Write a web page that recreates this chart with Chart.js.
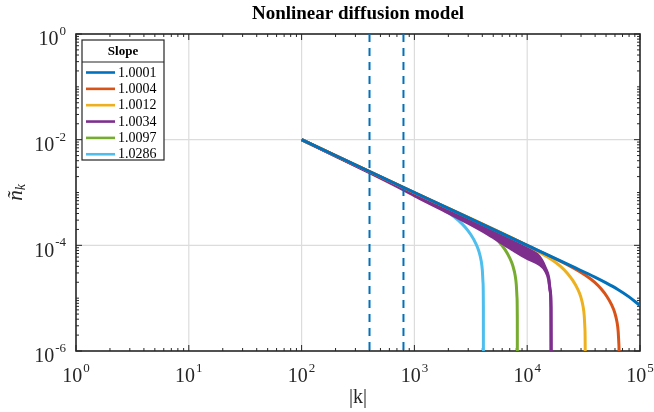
<!DOCTYPE html>
<html>
<head>
<meta charset="utf-8">
<script src="https://cdn.jsdelivr.net/npm/chart.js@4.4.0/dist/chart.umd.min.js"></script>
<style>
  html, body { margin: 0; padding: 0; background: #fff; }
  #wrap { width: 654px; height: 412px; position: relative; }
</style>
</head>
<body>
<div id="wrap"><canvas id="grafico"></canvas></div>
<script>
// pendientes (leyenda) y colores por defecto de matlab
const slopes = ['1.0001', '1.0004', '1.0012', '1.0034', '1.0097', '1.0286']
const colores = ['#0072BD', '#D95319', '#EDB120', '#7E2F8E', '#77AC30', '#4DBEEE']

// curvas |k| vs n_k
const kBlue = [100, 1000, 10000, 25100, 39800, 50100, 63100, 79400, 100000]
const nBlue = [1e-2, 9.998e-4, 9.998e-5, 3.98e-5, 2.51e-5, 1.949e-5, 1.477e-5, 1.070e-5, 7.24e-6]

const kOrange = [100, 1000, 10000, 26090, 32846, 39496, 45345, 50877, 55786, 59774, 62593, 64051, 64944, 65395, 65536]
const nOrange = [1e-2, 9.99e-4, 9.98e-5, 3.65e-5, 2.707e-5, 2.007e-5, 1.487e-5, 1.077e-5, 7.63e-6, 5.28e-6, 3.49e-6, 2.36e-6, 1.37e-6, 4.8e-7, 1e-8]

const kYellow = [100, 1000, 10000, 13045, 16422, 19747, 22669, 25435, 27889, 29885, 31293, 32023, 32468, 32693, 32768]
const nYellow = [1e-2, 9.97e-4, 9.94e-5, 7.28e-5, 5.39e-5, 4.00e-5, 2.965e-5, 2.146e-5, 1.519e-5, 1.051e-5, 6.94e-6, 4.69e-6, 2.73e-6, 9.6e-7, 1e-8]

// la morada es una banda: borde inferior y borde superior
const kPurple = [100, 400, 750, 1100, 2000, 3000, 4400, 5750, 7600, 10000, 13000, 14500, 15500, 16000, 16250, 16384]
const nPurple = [1e-2, 2.38e-3, 1.21e-3, 7.85e-4, 4.12e-4, 2.62e-4, 1.66e-4, 1.16e-4, 8.0e-5, 5.66e-5, 4.26e-5, 3.31e-5, 2.24e-5, 1.32e-5, 6.3e-6, 1e-8]
const kPurpleUp = [100, 1000, 3000, 10000, 12000, 13500, 14500, 15500, 16000, 16250, 16384]
const nPurpleUp = [1e-2, 9.7e-4, 3.18e-4, 9.5e-5, 7.14e-5, 5.15e-5, 3.72e-5, 2.45e-5, 1.41e-5, 6.8e-6, 1e-8]

const kGreen = [100, 1000, 3262, 4105, 4937, 5667, 6359, 6972, 7471, 7823, 8004, 8116, 8173, 8192]
const nGreen = [1e-2, 9.78e-4, 2.83e-4, 2.094e-4, 1.55e-4, 1.147e-4, 8.30e-5, 5.87e-5, 4.06e-5, 2.68e-5, 1.81e-5, 1.052e-5, 3.71e-6, 1e-8]

const kCyan = [100, 400, 1000, 1631, 2052, 2468, 2834, 3179, 3486, 3736, 3912, 4002, 4058, 4087, 4096]
const nCyan = [1e-2, 2.40e-3, 9.36e-4, 5.41e-4, 3.98e-4, 2.94e-4, 2.17e-4, 1.566e-4, 1.105e-4, 7.63e-5, 5.04e-5, 3.40e-5, 1.975e-5, 6.96e-6, 1e-8]

// lineas verticales punteadas
const kDash = [400, 800]

// ticks
const xExps = [0, 1, 2, 3, 4, 5]
const yExps = [0, -2, -4, -6]

const fuente = '"Liberation Serif", "Times New Roman", serif'

function serie(k, n, color, label) {
   return {
      label: label,
      leyenda: true,
      data: k.map((v, i) => ({ x: v, y: n[i] })),
      borderColor: color,
      backgroundColor: color,
      borderWidth: 3,
      pointRadius: 0,
      fill: false,
      cubicInterpolationMode: 'monotone'
   }
}

const datasets = []
kDash.forEach(k => {
   datasets.push({
      data: [{ x: k, y: 1 }, { x: k, y: 1e-6 }],
      borderColor: colores[0],
      borderWidth: 2,
      borderDash: [8, 6],
      pointRadius: 0,
      fill: false
   })
})
datasets.push(serie(kBlue, nBlue, colores[0], slopes[0]))
datasets.push(serie(kOrange, nOrange, colores[1], slopes[1]))
datasets.push(serie(kYellow, nYellow, colores[2], slopes[2]))
datasets.push(serie(kPurple, nPurple, colores[3], slopes[3]))
const banda = serie(kPurpleUp, nPurpleUp, colores[3], '')
banda.leyenda = false
banda.fill = '-1'
datasets.push(banda)
datasets.push(serie(kGreen, nGreen, colores[4], slopes[4]))
datasets.push(serie(kCyan, nCyan, colores[5], slopes[5]))

function potencia(ctx, exp, x, yBase, align) {
   ctx.font = '20px ' + fuente
   const wBase = ctx.measureText('10').width
   ctx.font = '13px ' + fuente
   const wExp = ctx.measureText(String(exp)).width
   const total = wBase + 1 + wExp
   const x0 = align === 'right' ? x - total : x - total / 2
   ctx.textAlign = 'left'
   ctx.textBaseline = 'middle'
   ctx.font = '20px ' + fuente
   ctx.fillText('10', x0, yBase)
   ctx.font = '13px ' + fuente
   ctx.fillText(String(exp), x0 + wBase + 1, yBase - 8.5)
}

const ejes = {
   id: 'ejes',
   beforeDatasetsDraw(chart) {
      const ctx = chart.ctx
      const a = chart.chartArea
      const xs = chart.scales.x
      const ys = chart.scales.y
      ctx.save()
      // grid
      ctx.strokeStyle = '#dcdcdc'
      ctx.lineWidth = 1.2
      ctx.beginPath()
      xExps.slice(1, -1).forEach(e => {
         const px = xs.getPixelForValue(Math.pow(10, e))
         ctx.moveTo(px, a.top); ctx.lineTo(px, a.bottom)
      })
      yExps.slice(1, -1).forEach(e => {
         const py = ys.getPixelForValue(Math.pow(10, e))
         ctx.moveTo(a.left, py); ctx.lineTo(a.right, py)
      })
      ctx.stroke()

      // ticks hacia adentro
      ctx.strokeStyle = '#262626'
      ctx.lineWidth = 1
      ctx.beginPath()
      for (let e = 0; e <= 5; e++) {
         const px = xs.getPixelForValue(Math.pow(10, e))
         ctx.moveTo(px, a.bottom); ctx.lineTo(px, a.bottom - 6)
         ctx.moveTo(px, a.top); ctx.lineTo(px, a.top + 6)
         if (e < 5) {
            for (let m = 2; m <= 9; m++) {
               const pm = xs.getPixelForValue(m * Math.pow(10, e))
               ctx.moveTo(pm, a.bottom); ctx.lineTo(pm, a.bottom - 3)
               ctx.moveTo(pm, a.top); ctx.lineTo(pm, a.top + 3)
            }
         }
      }
      for (let e = -6; e <= 0; e++) {
         const py = ys.getPixelForValue(Math.pow(10, e))
         const largo = yExps.includes(e) ? 6 : 3
         ctx.moveTo(a.left, py); ctx.lineTo(a.left + largo, py)
         ctx.moveTo(a.right, py); ctx.lineTo(a.right - largo, py)
         if (e < 0) {
            for (let m = 2; m <= 9; m++) {
               const pm = ys.getPixelForValue(m * Math.pow(10, e))
               ctx.moveTo(a.left, pm); ctx.lineTo(a.left + 3, pm)
               ctx.moveTo(a.right, pm); ctx.lineTo(a.right - 3, pm)
            }
         }
      }
      ctx.stroke()

      // caja
      ctx.lineWidth = 1.6
      ctx.strokeRect(a.left, a.top, a.right - a.left, a.bottom - a.top)

      // etiquetas
      ctx.fillStyle = '#262626'
      xExps.forEach(e => {
         potencia(ctx, e, xs.getPixelForValue(Math.pow(10, e)), a.bottom + 26, 'center')
      })
      yExps.forEach(e => {
         potencia(ctx, e, a.left - 10, ys.getPixelForValue(Math.pow(10, e)) + 6, 'right')
      })

      // titulos
      ctx.textAlign = 'center'
      ctx.textBaseline = 'middle'
      ctx.font = '20px ' + fuente
      ctx.fillText('|k|', (a.left + a.right) / 2, a.bottom + 47)
      ctx.fillStyle = '#000'
      ctx.font = 'bold 19px ' + fuente
      ctx.fillText('Nonlinear diffusion model', (a.left + a.right) / 2, 14)

      ctx.fillStyle = '#262626'
      ctx.translate(16, (a.top + a.bottom) / 2)
      ctx.rotate(-Math.PI / 2)
      ctx.font = 'italic 21px ' + fuente
      const wn = ctx.measureText('ñ').width
      ctx.font = 'italic 14px ' + fuente
      const wk = ctx.measureText('k').width
      const x0 = -(wn + wk) / 2
      ctx.textAlign = 'left'
      ctx.font = 'italic 21px ' + fuente
      ctx.fillText('ñ', x0, 0)
      ctx.font = 'italic 14px ' + fuente
      ctx.fillText('k', x0 + wn, 5)
      ctx.restore()
   },
   afterDraw(chart) {
      // leyenda tipo matlab
      const ctx = chart.ctx
      const a = chart.chartArea
      const lx = a.left + 6, ly = a.top + 6, lw = 82, lh = 120
      ctx.save()
      ctx.fillStyle = '#fff'
      ctx.fillRect(lx, ly, lw, lh)
      ctx.strokeStyle = '#262626'
      ctx.lineWidth = 1.2
      ctx.strokeRect(lx, ly, lw, lh)
      ctx.beginPath()
      ctx.moveTo(lx, ly + 22); ctx.lineTo(lx + lw, ly + 22)
      ctx.stroke()
      ctx.fillStyle = '#000'
      ctx.textAlign = 'center'
      ctx.textBaseline = 'middle'
      ctx.font = 'bold 13px ' + fuente
      ctx.fillText('Slope', lx + lw / 2, ly + 11.5)
      ctx.textAlign = 'left'
      ctx.font = '14px ' + fuente
      let i = 0
      chart.data.datasets.forEach(ds => {
         if (!ds.leyenda) return
         const y = ly + 32.5 + i * 16.35
         ctx.strokeStyle = ds.borderColor
         ctx.lineWidth = 2.6
         ctx.beginPath()
         ctx.moveTo(lx + 4, y); ctx.lineTo(lx + 33, y)
         ctx.stroke()
         ctx.fillText(ds.label, lx + 36, y + 0.5)
         i++
      })
      ctx.restore()
   }
}

new Chart(document.getElementById('grafico'), {
   type: 'line',
   data: { datasets: datasets },
   options: {
      responsive: true,
      maintainAspectRatio: false,
      animation: false,
      events: [],
      layout: { padding: { left: 76, right: 14, top: 34, bottom: 61 } },
      scales: {
         x: { type: 'logarithmic', min: 1, max: 1e5, display: false },
         y: { type: 'logarithmic', min: 1e-6, max: 1, display: false }
      },
      plugins: {
         legend: { display: false },
         tooltip: { enabled: false }
      }
   },
   plugins: [ejes]
})
</script>
</body>
</html>
